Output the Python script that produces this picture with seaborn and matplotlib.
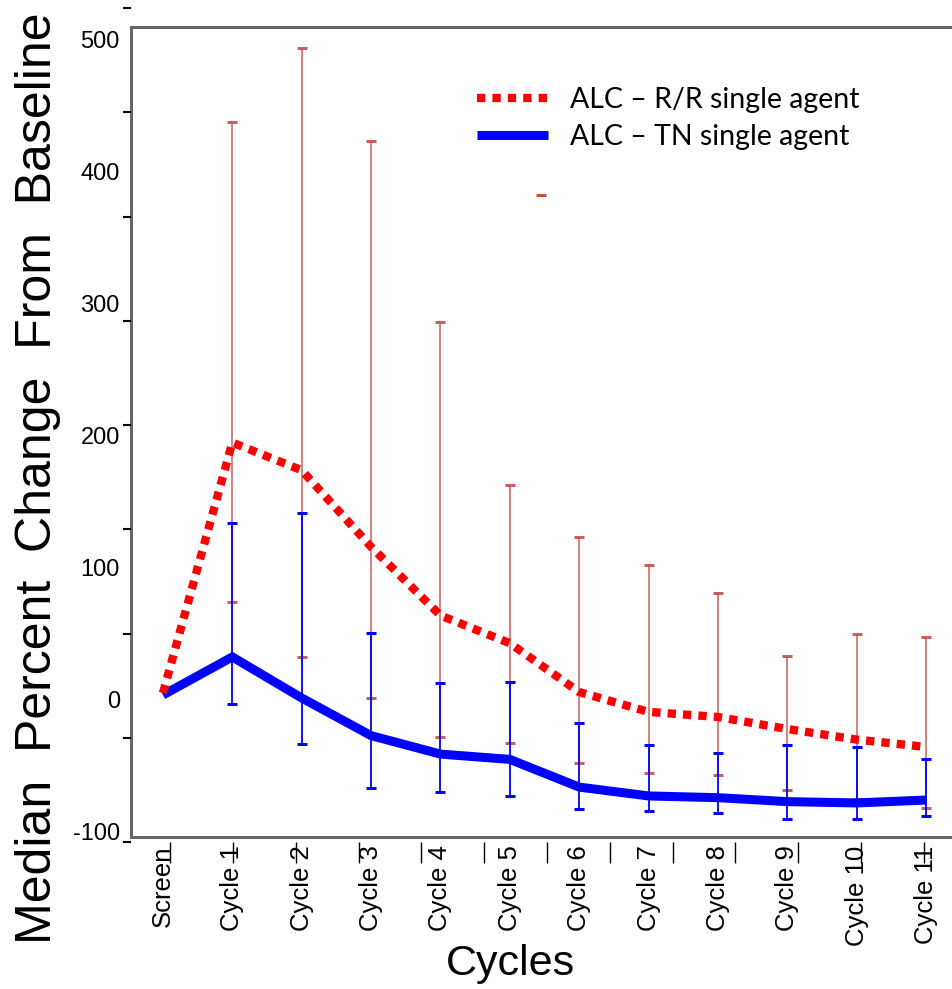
import numpy as np
import pandas as pd
import matplotlib
matplotlib.use("Agg")
import matplotlib.pyplot as plt
from matplotlib.lines import Line2D
import seaborn as sns

# ---------------- data ----------------
categories = ["Screen", "Cycle 1", "Cycle 2", "Cycle 3", "Cycle 4", "Cycle 5",
              "Cycle 6", "Cycle 7", "Cycle 8", "Cycle 9", "Cycle 10", "Cycle 11"]
rr_median = [5.3, 195, 174, 116, 64, 43, 6, -9, -12.9, -22, -30, -35.6]
rr_upper = [np.nan, 438, 494, 423.5, 286, 163, 123.5, 102, 81, 33.3, 50, 47.7]
rr_lower = [np.nan, 74, 32.6, 1.5, -28, -32.6, -47.7, -55, -57, -68, -75, -82]
tn_median = [3.8, 32.6, 1.5, -27, -41, -45, -66, -72.7, -74, -77, -78, -75.8]
tn_upper = [np.nan, 134, 141.7, 50.8, 13, 13.6, -17.4, -34, -40.5, -34, -35.6, -44.7]
tn_lower = [np.nan, -3, -33, -66.7, -69.7, -72.7, -82.6, -84, -85.6, -90, -90, -88]
stray_x = [5.45]
stray_y = [382.6]
ytick_values = [-100, 0, 100, 200, 300, 400, 500]
series_labels = ["ALC \u2013 R/R single agent", "ALC \u2013 TN single agent"]
ylabel_text = "Median  Percent  Change  From  Baseline"
xlabel_text = "Cycles"

df = pd.DataFrame({
    "pos": np.arange(len(categories)),
    "cycle": categories,
    "rr": rr_median, "rr_lo": rr_lower, "rr_hi": rr_upper,
    "tn": tn_median, "tn_lo": tn_lower, "tn_hi": tn_upper,
})

# ---------------- style ----------------
sns.set_style("white")
plt.rcParams["font.family"] = ["Liberation Sans", "DejaVu Sans"]
plt.rcParams["text.color"] = "black"
plt.rcParams["axes.labelcolor"] = "black"
plt.rcParams["xtick.color"] = "black"
plt.rcParams["ytick.color"] = "black"

W, H = 952, 989
fig = plt.figure(figsize=(W / 100, H / 100), dpi=100)

def fx(px):
    return px / W

def fy(py):
    return 1 - py / H

# main axes (pixel box: left 131, right 952, top 27, bottom 837)
ax = fig.add_axes([fx(131), fy(837), fx(952) - fx(131), fy(27) - fy(837)])

RED = "#FF0000"
BLUE = "#0000FF"
RED_ERR = "#C0504D"

# error bars
ok = df["rr_hi"].notna()
ax.errorbar(df.loc[ok, "pos"], df.loc[ok, "rr"],
            yerr=[df.loc[ok, "rr"] - df.loc[ok, "rr_lo"], df.loc[ok, "rr_hi"] - df.loc[ok, "rr"]],
            fmt="none", ecolor=RED_ERR, elinewidth=1.1, capsize=3.8, capthick=2.2,
            alpha=0.9, zorder=2)
ok = df["tn_hi"].notna()
ax.errorbar(df.loc[ok, "pos"], df.loc[ok, "tn"],
            yerr=[df.loc[ok, "tn"] - df.loc[ok, "tn_lo"], df.loc[ok, "tn_hi"] - df.loc[ok, "tn"]],
            fmt="none", ecolor=BLUE, elinewidth=1.3, capsize=3.8, capthick=2.2,
            zorder=2.5)

# stray cap mark
ax.scatter(stray_x, stray_y, marker="_", s=60, color=RED_ERR, linewidths=2.2, zorder=2)

# median lines
sns.lineplot(data=df, x="pos", y="tn", ax=ax, color=BLUE, linewidth=6.5,
             solid_capstyle="butt", solid_joinstyle="miter", zorder=3, sort=False)
sns.lineplot(data=df, x="pos", y="rr", ax=ax, color=RED, linewidth=6.0,
             linestyle=(0, (1, 0.85)), dash_capstyle="butt", zorder=4, sort=False)

# limits / scale
ax.set_xlim(-0.461, 11.375)
ax.set_ylim(-103.8, 509.8)

ax.set_xticks(df["pos"])
ax.set_xticklabels(categories, rotation=90, fontsize=18.5, va="top", ha="center")
ax.set_yticks(ytick_values)
ax.set_yticklabels([str(v) for v in ytick_values], fontsize=17)
ax.tick_params(axis="both", length=0)
ax.tick_params(axis="x", pad=6)
ax.tick_params(axis="y", pad=8)

for side in ["left", "top", "bottom"]:
    ax.spines[side].set_visible(True)
    ax.spines[side].set_color("#666666")
    ax.spines[side].set_linewidth(2.2)
ax.spines["right"].set_visible(False)
ax.grid(False)

ax.set_ylabel(ylabel_text, fontsize=36, va="center")
ax.yaxis.set_label_coords((38 - 131) / 821, (837 - 478) / 810)
ax.set_xlabel(xlabel_text, fontsize=31, va="center")
ax.xaxis.set_label_coords((510 - 131) / 821, (837 - 964) / 810)

# legend
handles = [
    Line2D([], [], color=RED, linewidth=6.0, linestyle=(0, (1, 0.85)), dash_capstyle="butt"),
    Line2D([], [], color=BLUE, linewidth=6.5, solid_capstyle="butt"),
]
leg = ax.legend(handles, series_labels, loc="upper left",
                bbox_to_anchor=(fx(477), fy(87)), bbox_transform=fig.transFigure,
                frameon=False, borderpad=0, borderaxespad=0,
                handlelength=2.5, handletextpad=0.75, labelspacing=0.4,
                prop={"family": ["Lato", "DejaVu Sans"], "size": 20.5})

# detached tick-mark axis (ticks offset from the plotting box)
tax = fig.add_axes([fx(131), fy(842), fx(952) - fx(131), fy(8) - fy(842)])
tax.patch.set_alpha(0)
for s in tax.spines.values():
    s.set_visible(False)
tax.set_ylim(0, 8)
tax.set_yticks(range(9))
tax.set_yticklabels([])
tax.set_xlim(-0.621, 12.446)
tax.set_xticks(range(13))
tax.set_xticklabels([])
tax.tick_params(axis="y", direction="out", length=6, width=1.5, color="black", left=True)
tax.tick_params(axis="x", direction="out", length=15, width=1.0, color="black", bottom=True)
tax.grid(False)

fig.savefig("out.png", dpi=100)
